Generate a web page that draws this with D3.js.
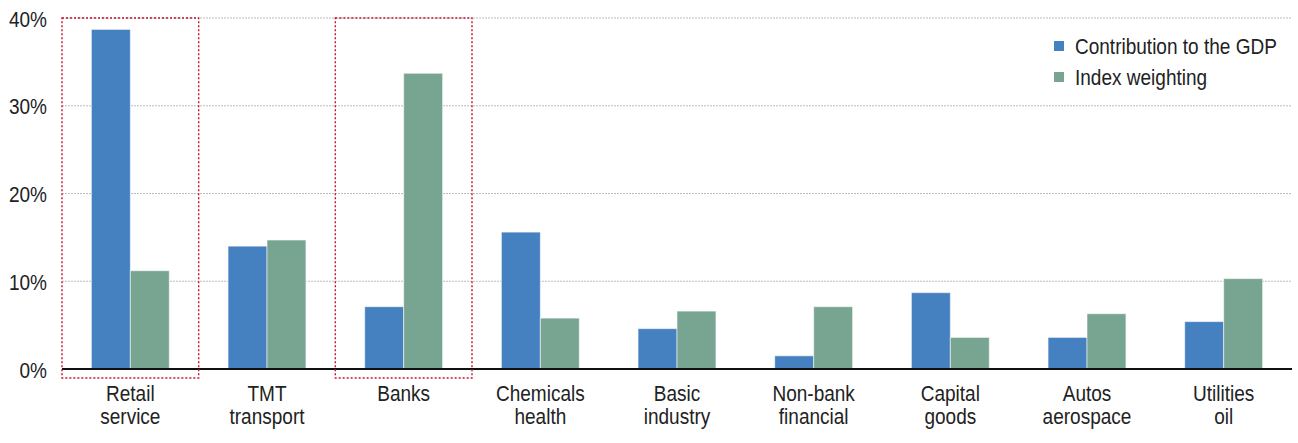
<!DOCTYPE html>
<html lang="en">
<head>
  <meta charset="UTF-8" />
  <script src="https://d3js.org/d3.v7.min.js"></script>
  <title>GDP contribution vs index weighting</title>
  <style>
    body { margin: 0; background: #fff; }
    svg text {
      font-family: "Liberation Sans", Arial, sans-serif;
      font-size: 22px;
      fill: #222;
    }
    .grid line { stroke: #bdbdbd; stroke-width: 1; stroke-dasharray: 2,1; }
    .box { fill: none; stroke: #c8102e; stroke-width: 1.4; stroke-dasharray: 2,2; }
  </style>
</head>
<body>
<script type="text/javascript">
var width = 1298;
var height = 443;

var categories = ["Retail service", "TMT transport", "Banks", "Chemicals health", "Basic industry",
                  "Non-bank financial", "Capital goods", "Autos aerospace", "Utilities oil"];
var labelLines = [["Retail", "service"], ["TMT", "transport"], ["Banks"], ["Chemicals", "health"],
                  ["Basic", "industry"], ["Non-bank", "financial"], ["Capital", "goods"],
                  ["Autos", "aerospace"], ["Utilities", "oil"]];
var gdpContribution = [38.7, 14.0, 7.1, 15.6, 4.6, 1.5, 8.7, 3.6, 5.4];
var indexWeighting = [11.2, 14.7, 33.7, 5.8, 6.6, 7.1, 3.6, 6.3, 10.3];
var seriesNames = ["Contribution to the GDP", "Index weighting"];
var seriesColors = ["#4581c1", "#78a592"];
var yTicks = [0, 10, 20, 30, 40];
var highlighted = ["Retail service", "Banks"];

var margin = {top: 18, right: 6, bottom: 74, left: 62};
var squeeze = 0.865; // narrow look of the original type

var svg = d3.select("body").append("svg")
  .attr("width", width)
  .attr("height", height);

var g = svg.append("g").attr("transform", "translate(" + margin.left + "," + margin.top + ")");
var w = width - margin.left - margin.right;
var h = height - margin.top - margin.bottom;

var x = d3.scaleBand().domain(categories).range([0, w]).paddingInner(0.43).paddingOuter(0.215);
var xSeries = d3.scaleBand().domain(seriesNames).range([0, x.bandwidth()]);
var y = d3.scaleLinear().domain([0, 40]).range([h, 0]);

// gridlines
g.append("g").attr("class", "grid")
  .selectAll("line").data(yTicks.filter(function(d){ return d > 0; }))
  .enter().append("line")
  .attr("x1", 0).attr("x2", w)
  .attr("y1", function(d){ return y(d); })
  .attr("y2", function(d){ return y(d); });

// y labels
var yAxis = g.append("g")
  .call(d3.axisLeft(y).tickValues(yTicks).tickFormat(function(d){ return d + "%"; }).tickSize(0).tickPadding(15));
yAxis.select(".domain").remove();
yAxis.selectAll("text")
  .attr("x", 0)
  .attr("fill", "#222")
  .attr("transform", "translate(-15,1) scale(" + squeeze + ",1)");

// bars
var rows = categories.map(function(c, i){
  return {cat: c, vals: [gdpContribution[i], indexWeighting[i]]};
});
var groups = g.selectAll(".grp").data(rows).enter().append("g")
  .attr("transform", function(d){ return "translate(" + x(d.cat) + ",0)"; });
groups.selectAll("rect").data(function(d){
    return d.vals.map(function(v, j){ return {s: seriesNames[j], v: v, c: seriesColors[j]}; });
  })
  .enter().append("rect")
  .attr("x", function(d){ return xSeries(d.s); })
  .attr("width", xSeries.bandwidth())
  .attr("y", function(d){ return y(d.v); })
  .attr("height", function(d){ return y(0) - y(d.v); })
  .attr("fill", function(d){ return d.c; })
  .attr("stroke", "rgba(255,255,255,0.55)")
  .attr("stroke-width", 1);

// zero axis line
g.append("line")
  .attr("x1", 0).attr("x2", w)
  .attr("y1", y(0)).attr("y2", y(0))
  .attr("stroke", "#111").attr("stroke-width", 2);

// dotted highlight boxes
var step = x.step();
g.selectAll(".box").data(highlighted).enter().append("rect")
  .attr("class", "box")
  .attr("x", function(d){ return x(d) - x.paddingOuter() * step; })
  .attr("width", step)
  .attr("y", y(40))
  .attr("height", y(0) - y(40) + 9);

// category labels
var lab = g.selectAll(".lab").data(categories).enter().append("text")
  .attr("text-anchor", "middle")
  .attr("transform", function(d){
    return "translate(" + (x(d) + x.bandwidth() / 2) + "," + (h + 32) + ") scale(" + squeeze + ",1)";
  });
lab.selectAll("tspan").data(function(d, i){ return labelLines[i]; })
  .enter().append("tspan")
  .attr("x", 0)
  .attr("dy", function(d, i){ return i === 0 ? 0 : 23; })
  .text(function(d){ return d; });

// legend
var legend = svg.append("g").attr("transform", "translate(1054,46)");
var li = legend.selectAll("g").data(seriesNames).enter().append("g")
  .attr("transform", function(d, i){ return "translate(0," + (i * 31) + ")"; });
li.append("rect").attr("x", 0).attr("y", -5).attr("width", 10).attr("height", 10)
  .attr("fill", function(d, i){ return seriesColors[i]; });
li.append("text")
  .attr("transform", "translate(21,0) scale(" + squeeze + ",1)")
  .attr("dy", "0.35em")
  .text(function(d){ return d; });
</script>
</body>
</html>
